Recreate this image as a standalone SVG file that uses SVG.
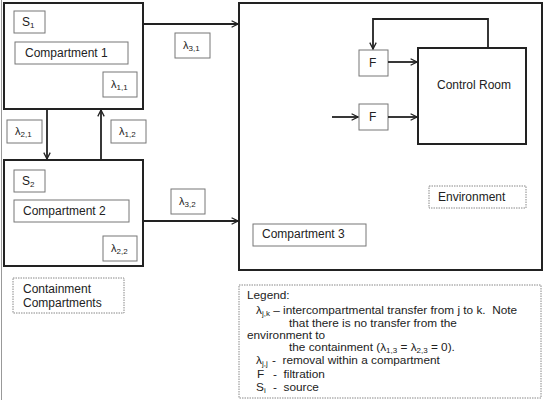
<svg xmlns="http://www.w3.org/2000/svg" width="550" height="400" viewBox="0 0 550 400">
<style>
text{font-family:"Liberation Sans",Arial,sans-serif;font-size:12px;fill:#222}
.main{fill:#fff;stroke:#222;stroke-width:2}
.lbl{fill:#fff;stroke:#777;stroke-width:1}
.dot{fill:#fff;stroke:#888;stroke-width:1;stroke-dasharray:1.5 1}
.lam{font-size:11px}
.sub{font-size:8px;fill:#222}
.leg{font-size:11.8px}
.con{fill:none;stroke:#222;stroke-width:1.8;marker-end:url(#ah)}
</style>
<defs>
<marker id="ah" viewBox="0 0 10 10" refX="9" refY="5" markerWidth="8" markerHeight="8" markerUnits="userSpaceOnUse" orient="auto">
<path d="M1,1 L9,5 L1,9" fill="none" stroke="#222" stroke-width="1.6"/>
</marker>
</defs>
<rect width="550" height="400" fill="#fff"/>
<line x1="1.5" y1="0" x2="1.5" y2="400" stroke="#999" stroke-width="1"/>

<g id="compartment3">
<rect class="main" x="239" y="3" width="303" height="267"/>
<rect class="lbl" x="253" y="224" width="113" height="22"/>
<text x="262" y="238">Compartment 3</text>
</g>
<g id="environment">
<rect class="dot" x="429" y="186" width="97" height="22"/>
<text x="438" y="201">Environment</text>
</g>
<g id="control-room">
<rect class="main" x="418" y="48" width="108" height="96"/>
<text x="437" y="89">Control Room</text>
</g>
<g id="filter1">
<rect class="lbl" x="359" y="50" width="29" height="26"/>
<text x="369" y="67">F</text>
</g>
<g id="filter2">
<rect class="lbl" x="359" y="104" width="29" height="26"/>
<text x="369" y="121">F</text>
</g>

<g id="compartment1">
<rect class="main" x="4" y="3" width="139" height="106"/>
<rect class="lbl" x="14" y="11" width="31" height="22"/>
<text x="22" y="26">S<tspan class="sub" dy="2">1</tspan></text>
<rect class="lbl" x="15" y="42" width="113" height="22"/>
<text x="25" y="57">Compartment 1</text>
<rect class="lbl" x="103" y="72" width="34" height="25"/>
<text class="lam" x="111" y="88">λ<tspan class="sub" dy="2">1,1</tspan></text>
</g>
<g id="compartment2">
<rect class="main" x="4" y="160" width="139" height="106"/>
<rect class="lbl" x="14" y="170" width="31" height="22"/>
<text x="22" y="185">S<tspan class="sub" dy="2">2</tspan></text>
<rect class="lbl" x="14" y="200" width="115" height="22"/>
<text x="23" y="215">Compartment 2</text>
<rect class="lbl" x="103" y="236" width="34" height="25"/>
<text class="lam" x="111" y="252">λ<tspan class="sub" dy="2">2,2</tspan></text>
</g>
<g id="containment-label">
<rect class="dot" x="13" y="278" width="111" height="35"/>
<text x="23" y="293">Containment</text>
<text x="23" y="307">Compartments</text>
</g>

<g id="connectors">
<path class="con" d="M143,24 L238,24"/>
<path class="con" d="M143,221 L238,221"/>
<path class="con" d="M47,109 L47,159"/>
<path class="con" d="M101,160 L101,110"/>
<path class="con" d="M388,62 L417,62"/>
<path class="con" d="M388,117 L417,117"/>
<path class="con" d="M332,117 L358,117"/>
<path class="con" d="M488,48 L488,19 L373,19 L373,49"/>
</g>
<g id="rate-labels">
<rect class="lbl" x="175" y="33" width="35" height="25"/>
<text class="lam" x="183" y="49">λ<tspan class="sub" dy="2">3,1</tspan></text>
<rect class="lbl" x="7" y="120" width="35" height="23"/>
<text class="lam" x="15" y="135">λ<tspan class="sub" dy="2">2,1</tspan></text>
<rect class="lbl" x="111" y="120" width="35" height="23"/>
<text class="lam" x="119" y="135">λ<tspan class="sub" dy="2">1,2</tspan></text>
<rect class="lbl" x="171" y="189" width="34" height="25"/>
<text class="lam" x="179" y="205">λ<tspan class="sub" dy="2">3,2</tspan></text>
</g>

<g id="legend">
<rect class="dot" x="239" y="285" width="302" height="113"/>
<text class="leg" x="247" y="299">Legend:</text>
<text class="leg" x="256" y="314">λ<tspan class="sub" dy="1.5">j,k</tspan><tspan dy="-1.5"> – intercompartmental transfer from j to k.&#160; Note</tspan></text>
<text class="leg" x="289" y="327">that there is no transfer from the</text>
<text class="leg" x="247" y="339">environment to</text>
<text class="leg" x="289" y="351">the containment (λ<tspan class="sub" dy="1.5">1,3</tspan><tspan dy="-1.5"> = λ</tspan><tspan class="sub" dy="1.5">2,3</tspan><tspan dy="-1.5"> = 0).</tspan></text>
<text class="leg" x="256" y="364">λ<tspan class="sub" dy="1.5">j,j</tspan><tspan dy="-1.5" x="272">-&#160; removal within a compartment</tspan></text>
<text class="leg" x="257" y="378">F</text>
<text class="leg" x="273" y="378">-&#160; filtration</text>
<text class="leg" x="256" y="391">S<tspan class="sub" dy="1.5">i</tspan></text>
<text class="leg" x="273" y="391">-&#160; source</text>
</g>
</svg>
